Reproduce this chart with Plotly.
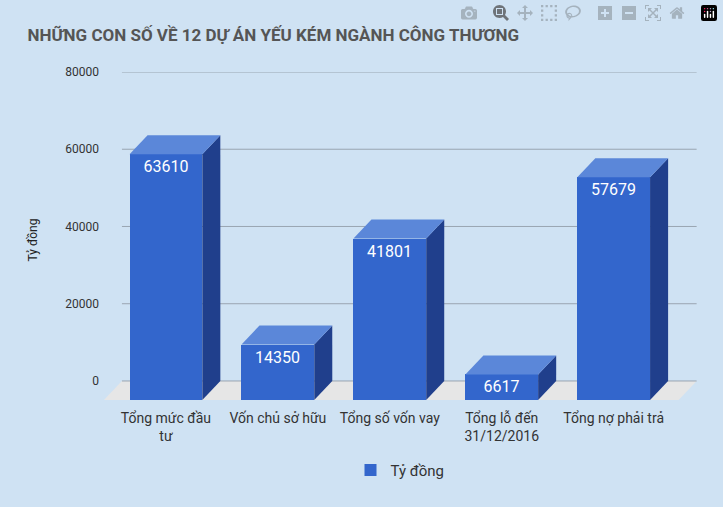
import plotly.graph_objects as go

categories = ["Tổng mức đầu<br>tư", "Vốn chủ sở hữu", "Tổng số vốn vay", "Tổng lỗ đến<br>31/12/2016", "Tổng nợ phải trả"]
values = [63610, 14350, 41801, 6617, 57679]
y_ticks = [0, 20000, 40000, 60000, 80000]
series_name = "Tỷ đồng"

# 3D look parameters (in axis units)
dx = 0.161   # depth shift along x
dy = 4920    # depth shift along y
w = 0.65     # bar width
x0_wall, x1_wall = -0.554, 4.58

FRONT, TOP, SIDE = "#3366cc", "#5b87d9", "#203f8c"

xs = list(range(len(values)))
fig = go.Figure()
fig.add_trace(go.Bar(
    x=[i - dx for i in xs], y=values, base=[-dy] * len(values), width=w,
    marker=dict(color=FRONT, line=dict(width=0)), name=series_name,
    text=[str(v) for v in values], textposition="inside", insidetextanchor="end",
    textfont=dict(color="white", size=16, family="Roboto"), showlegend=True,
    hoverinfo="skip"))

shapes = []
shapes.append(dict(type="path", xref="x", yref="y", layer="below",
    path=f"M{x0_wall},0 L{x1_wall},0 L{x1_wall-dx},{-dy} L{x0_wall-dx},{-dy} Z",
    fillcolor="#e6e6e6", line=dict(width=0)))
for t in y_ticks:
    shapes.append(dict(type="line", xref="x", yref="y", layer="below",
        x0=x0_wall, x1=x1_wall, y0=t, y1=t, line=dict(color="#9aa5b1", width=1)))
for i, v in zip(xs, values):
    l, r = i - w / 2, i + w / 2
    shapes.append(dict(type="path", xref="x", yref="y",
        path=f"M{r-dx},{v-dy} L{r},{v} L{r},0 L{r-dx},{-dy} Z",
        fillcolor=SIDE, line=dict(width=0)))
    shapes.append(dict(type="path", xref="x", yref="y",
        path=f"M{l-dx},{v-dy} L{r-dx},{v-dy} L{r},{v} L{l},{v} Z",
        fillcolor=TOP, line=dict(width=0)))

fig.update_layout(
    width=723, height=507,
    paper_bgcolor="#cfe2f3", plot_bgcolor="rgba(0,0,0,0)",
    margin=dict(l=100, r=23, t=72, b=99),
    font=dict(family="Roboto", color="#333"),
    title=dict(text="<b>NHỮNG CON SỐ VỀ 12 DỰ ÁN YẾU KÉM NGÀNH CÔNG THƯƠNG</b>",
               x=0.038, xanchor="left", y=0.93, yanchor="middle",
               font=dict(size=17, color="#555", family="Roboto")),
    shapes=shapes,
    legend=dict(orientation="h", x=0.5, xanchor="center", y=-0.185, yanchor="middle",
                font=dict(size=15, color="#333")),
    bargap=0,
)
fig.update_xaxes(range=[-0.75, 4.61], tickvals=[i - dx for i in xs], ticktext=categories,
                 showgrid=False, zeroline=False, showline=False, ticks="",
                 tickfont=dict(size=14, color="#333"))
fig.update_yaxes(range=[-7000, 80000], tickvals=y_ticks, ticktext=[str(t) for t in y_ticks],
                 showgrid=False, zeroline=False, showline=False,
                 tickfont=dict(size=12, color="#333"),
                 title=dict(text=series_name, font=dict(size=12, color="#222"), standoff=25))
fig.write_html("out.html",
               post_script="document.body.style.margin='0';document.body.style.background='#cfe2f3';")
